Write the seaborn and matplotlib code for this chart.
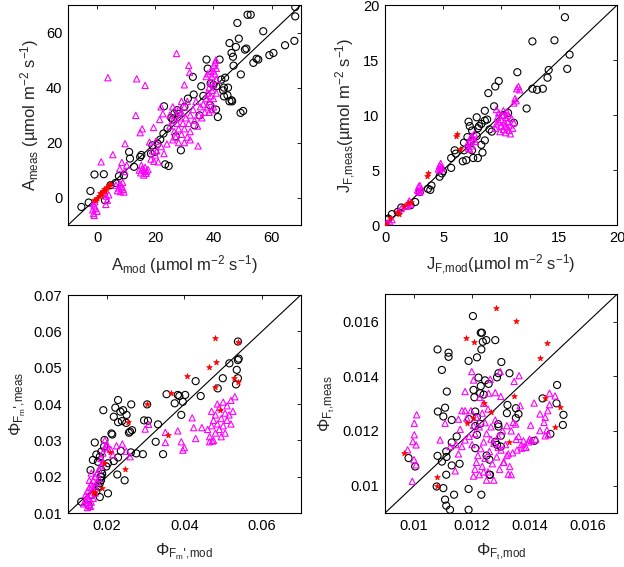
import numpy as np
import pandas as pd
import matplotlib
matplotlib.use("Agg")
import matplotlib.pyplot as plt
import seaborn as sns

# ---------------- Panel 1: A ----------------
a_circ_x = [-5.4, -2.3, -2.9, -0.9, 2.7, 2.3, 4.6, 6.3, 7.5, 9.2, 11.0, 11.3, 12.7, 14.8, 15.2, 18.5, 19.0, 19.8,
            20.8, 21.7, 22.8, 23.4, 24.6, 23.0, 24.2, 26.0, 26.5, 27.5, 28.8, 27.1, 30.0, 31.2, 33.2, 32.9, 33.5,
            35.2, 35.8, 37.6, 38.0, 38.8, 40.9, 41.5, 42.1, 42.7, 43.3, 43.6, 44.0, 44.8, 45.5, 46.4, 45.0, 45.5,
            46.2, 46.7, 46.9, 47.7, 48.2, 48.7, 49.3, 50.2, 49.4, 50.8, 51.3, 51.7, 52.8, 53.7, 54.8, 55.4, 57.1,
            59.2, 60.6, 64.6, 67.8, 68.1, 68.1, 43.6, 46.2, 40.0, 36.5, 39.0, 41.0, 25.5, 28.0]
a_circ_y = [-3.4, 2.4, -1.8, 8.4, -1.0, 8.5, 4.5, 5.3, 7.8, 8.1, 16.6, 14.2, 11.2, 14.8, 15.5, 16.0, 19.0, 16.6,
            19.6, 21.1, 23.3, 12.1, 11.5, 33.2, 25.1, 28.4, 30.5, 31.8, 17.2, 22.3, 33.0, 36.0, 37.5, 43.9, 26.3,
            29.9, 40.5, 50.2, 46.9, 33.6, 32.0, 29.3, 50.2, 42.9, 39.0, 40.0, 43.6, 37.2, 35.0, 35.0, 40.0, 56.2,
            52.6, 51.2, 48.0, 54.8, 63.5, 57.8, 30.8, 31.5, 44.8, 53.8, 54.2, 66.5, 66.5, 49.0, 50.5, 50.2, 60.5,
            51.8, 52.6, 55.4, 57.0, 65.9, 69.3, 36.8, 35.4, 41.0, 37.0, 41.5, 40.5, 29.0, 30.5]
a_tri_x = [3.7, 13.6, 16.5, 27.3, 31.5, 31.8, 30.0, 13.3, 14.8, 15.5, 19.4, 9.6, 5.4, 1.4, 34.7, 22.0, 22.6, 21.5, 18.0,
           -1.2, -1.5, -1.0, -0.8, -1.3, -0.5, 0.0, -1.0, 3.0, 3.5, 4.0, 3.2, 2.5,
           7.0, 7.5, 8.0, 8.5, 9.0, 7.8, 8.8, 6.5, 9.2, 7.8, 8.5, 9.5, 10.2,
           15.0, 15.5, 16.0, 16.5, 17.0, 15.2, 17.5, 16.2, 14.5, 16.8,
           18.5, 19.5, 20.0, 20.5, 21.0, 22.0, 23.0, 19.0, 24.0, 20.2,
           25, 26, 26.5, 27, 27.5, 28, 28, 28.5, 29, 29, 29.5, 30, 30, 30.5, 31, 31, 31.5, 32, 32, 33, 33.5, 34,
           34.5, 35, 35.5, 36, 36.5, 37, 37.5, 38, 27, 28, 26, 30, 32, 29, 26, 25,
           38, 38.5, 39, 39.5, 40, 40.2, 40.5, 41, 40.5, 41, 40, 39.5, 39, 38.5, 40, 41, 39, 38, 37.5, 40.8, 40,
           39.5, 38.5]
a_tri_y = [43.6, 43.2, 40.8, 52.4, 48.1, 45.5, 41.0, 29.9, 23.6, 25.0, 25.5, 19.6, 15.6, 13.0, 18.8, 33.0, 30.5, 28.4,
           20.2,
           -5.8, -4.5, -3.0, -1.5, -2.2, -4.0, -5.0, -6.5, -2.5, -1.0, 1.0, 0.5, 2.0,
           2.5, 3.5, 2.2, 4.0, 3.0, 5.0, 5.5, 4.5, 2.0, 10.5, 12.8, 9.5, 11.8,
           9.0, 10.5, 8.2, 11.0, 9.5, 11.8, 10.2, 9.8, 10.0, 8.8,
           14.0, 13.2, 15.5, 17.0, 13.0, 18.5, 16.0, 17.0, 19.5, 20.5,
           26, 28, 24, 30, 27, 32, 25, 29, 23, 31, 27, 33, 25, 29, 22, 35, 27, 30, 24, 32, 28, 35,
           26, 30, 33, 29, 34, 31, 36, 33, 22, 20, 21, 20, 21, 35, 33, 30,
           38, 40, 42, 44, 46, 48, 49, 47, 45, 43, 41, 39, 37, 35, 36, 38, 46, 45, 44, 50, 33,
           32, 31]
a_red_x = [-1.0, -0.5, 0.0, 0.5, 1.0, 1.2, 1.5, 2.0, 2.5, 2.8, 3.0, 3.5, 4.0, 4.5]
a_red_y = [-1.0, -0.8, 0.0, 0.5, 1.5, 0.8, 1.8, 2.3, 3.0, 2.5, 3.5, 4.0, 4.5, 5.0]

# ---------------- Panel 2: J_F ----------------
j_circ_x = [15.5, 12.7, 14.6, 15.9, 15.7, 14.1, 14.0, 11.4, 9.8, 9.5, 8.9, 12.7, 13.1, 13.6, 12.2, 9.4, 8.6, 7.9,
            8.6, 8.3, 7.2, 7.3, 7.5, 8.1, 9.0, 9.2, 7.1, 7.9, 8.6, 8.3, 7.4, 6.8, 6.8, 7.5, 8.4, 7.6, 8.0, 7.0,
            6.7, 6.0, 6.1, 5.7, 5.7, 5.0, 4.9, 4.7, 4.0, 3.7, 3.9, 3.0, 2.6, 2.2, 1.4, 1.1, 0.6, 0.3, 0.2, 10.6,
            11.1, 10.2, 8.8, 8.0]
j_circ_y = [18.9, 16.7, 16.8, 15.5, 14.2, 14.1, 13.4, 13.9, 13.1, 12.6, 12.0, 12.4, 12.3, 12.4, 10.6, 10.8, 10.4,
            9.8, 9.5, 9.2, 9.4, 9.0, 8.6, 9.0, 8.7, 8.5, 8.0, 8.1, 7.7, 7.3, 7.6, 7.5, 6.8, 6.8, 6.6, 6.1, 6.1,
            5.9, 5.8, 6.8, 6.5, 6.1, 5.2, 4.9, 4.7, 4.4, 3.6, 3.3, 3.2, 3.0, 2.1, 1.8, 1.6, 1.2, 1.0, 0.6, 0.5,
            10.2, 9.3, 10.0, 9.6, 8.8]
j_tri_x = [11.5, 11.6, 11.35, 11.2, 11.1, 11.3,
           9.5, 9.6, 9.7, 9.8, 9.9, 10.0, 10.0, 10.1, 10.2, 10.3, 10.4, 10.5, 10.5, 10.6, 10.7, 10.8, 10.9, 11.0,
           9.8, 10.2, 10.4, 10.6, 11.1, 9.6, 10.3, 10.8,
           7.2, 7.3, 7.4, 7.5, 7.6, 7.7, 7.3, 7.5, 7.8, 7.1,
           4.6, 4.7, 4.8, 4.9, 4.7, 4.8,
           2.8, 2.9, 3.0, 3.1, 3.0, 2.9,
           1.9, 2.0, 2.1, 2.2, 1.8,
           0.2, 0.4, 0.6, 1.2, 1.4, 0.1]
j_tri_y = [12.6, 12.3, 12.4, 11.5, 11.1, 11.3,
           8.8, 9.2, 9.8, 10.2, 8.5, 9.0, 9.6, 10.0, 8.7, 9.3, 9.8, 8.9, 10.3, 9.4, 8.6, 9.1, 9.7, 8.8,
           9.4, 10.4, 8.4, 10.0, 9.3, 10.5, 9.0, 8.3,
           7.0, 7.5, 8.0, 7.2, 7.8, 8.3, 6.9, 8.1, 7.6, 7.4,
           5.1, 5.4, 5.6, 5.2, 5.0, 5.3,
           3.2, 3.5, 3.6, 3.3, 3.0, 3.1,
           1.8, 2.0, 2.2, 1.9, 1.7,
           0.2, 0.3, 0.5, 1.3, 1.5, 0.1]
j_red_x = [6.1, 6.2, 3.6, 3.7, 6.5, 2.2, 2.0, 1.0, 1.2, 0.4, 0.1, 1.6]
j_red_y = [8.1, 8.3, 4.5, 4.7, 6.9, 2.1, 2.0, 1.2, 1.0, 0.6, 0.1, 1.7]

# ---------------- Panel 3: Phi_Fm' ----------------
f_circ_x = [0.0538, 0.0538, 0.0516, 0.0535, 0.0538, 0.0533, 0.0486, 0.0499, 0.0442, 0.0429, 0.0383, 0.0387, 0.0402,
            0.0396, 0.0392, 0.0375, 0.0354, 0.0345, 0.0326, 0.0304, 0.0332, 0.0296, 0.0306, 0.0293, 0.0276, 0.0263,
            0.0265, 0.0260, 0.0251, 0.0242, 0.0229, 0.0222, 0.0218, 0.0235, 0.0239, 0.0250, 0.0257, 0.0229, 0.0191,
            0.0212, 0.0214, 0.0194, 0.0193, 0.0169, 0.0186, 0.0182, 0.0173, 0.0164, 0.0158, 0.0177, 0.0186, 0.0203,
            0.0199, 0.0218, 0.0229, 0.0236, 0.0262, 0.0227, 0.0246, 0.0184, 0.0185, 0.0182, 0.0179, 0.0173, 0.0182,
            0.0203, 0.0162, 0.0134, 0.0153, 0.0186, 0.0188, 0.0540]
f_circ_y = [0.0572, 0.0521, 0.0512, 0.0494, 0.0471, 0.0454, 0.0443, 0.0471, 0.0422, 0.0463, 0.0425, 0.0422, 0.0425,
            0.0406, 0.0370, 0.0402, 0.0427, 0.0262, 0.0296, 0.0399, 0.0344, 0.0355, 0.0354, 0.0262, 0.0264, 0.0399,
            0.0328, 0.0324, 0.0370, 0.0383, 0.0411, 0.0390, 0.0365, 0.0379, 0.0353, 0.0348, 0.0321, 0.0350, 0.0383,
            0.0319, 0.0316, 0.0301, 0.0283, 0.0294, 0.0269, 0.0255, 0.0261, 0.0246, 0.0218, 0.0241, 0.0218, 0.0237,
            0.0228, 0.0243, 0.0253, 0.0271, 0.0267, 0.0206, 0.0190, 0.0200, 0.0190, 0.0182, 0.0173, 0.0159, 0.0144,
            0.0154, 0.0150, 0.0131, 0.0122, 0.0200, 0.0208, 0.0525]
f_tri_x = [0.0140, 0.0145, 0.0150, 0.0150, 0.0155, 0.0155, 0.0160, 0.0160, 0.0160, 0.0165, 0.0165, 0.0165, 0.0170,
           0.0170, 0.0170, 0.0175, 0.0175, 0.0180, 0.0180, 0.0185, 0.0185, 0.0190, 0.0190, 0.0195, 0.0200, 0.0195,
           0.0150, 0.0145, 0.0155, 0.0160, 0.0148, 0.0158, 0.0152, 0.0162,
           0.0210, 0.0225, 0.0240, 0.0250, 0.0260, 0.0200, 0.0215,
           0.0299, 0.0308, 0.0351, 0.0351, 0.0383, 0.0392, 0.0396, 0.0400, 0.0420, 0.0424, 0.0429, 0.0445, 0.0465,
           0.0472,
           0.0460, 0.0465, 0.0470, 0.0475, 0.0475, 0.0480, 0.0480, 0.0485, 0.0490, 0.0490, 0.0495, 0.0500, 0.0500,
           0.0505, 0.0510, 0.0510, 0.0515, 0.0520, 0.0520, 0.0525, 0.0530, 0.0470, 0.0485, 0.0495, 0.0505]
f_tri_y = [0.0125, 0.0135, 0.0145, 0.0160, 0.0170, 0.0120, 0.0180, 0.0150, 0.0130, 0.0190, 0.0165, 0.0140, 0.0200,
           0.0175, 0.0155, 0.0210, 0.0185, 0.0220, 0.0195, 0.0230, 0.0250, 0.0240, 0.0265, 0.0280, 0.0290, 0.0300,
           0.0115, 0.0150, 0.0190, 0.0210, 0.0128, 0.0118, 0.0138, 0.0172,
           0.0275, 0.0285, 0.0290, 0.0270, 0.0255, 0.0285, 0.0260,
           0.0331, 0.0344, 0.0322, 0.0294, 0.0326, 0.0296, 0.0273, 0.0280, 0.0362, 0.0335, 0.0305, 0.0335, 0.0296,
           0.0298,
           0.0330, 0.0310, 0.0340, 0.0300, 0.0355, 0.0320, 0.0370, 0.0345, 0.0330, 0.0390, 0.0360, 0.0340, 0.0405,
           0.0375, 0.0355, 0.0395, 0.0370, 0.0410, 0.0345, 0.0380, 0.0420, 0.0380, 0.0400, 0.0310, 0.0320]
f_red_x = [0.0480, 0.0482, 0.0463, 0.0407, 0.0478, 0.0529, 0.0538, 0.0538, 0.0491, 0.0366, 0.0359, 0.0304, 0.0255,
           0.0246, 0.0207, 0.0193, 0.0188, 0.0169, 0.0164]
f_red_y = [0.0583, 0.0515, 0.0503, 0.0477, 0.0448, 0.0471, 0.0460, 0.0572, 0.0383, 0.0431, 0.0315, 0.0399, 0.0350,
           0.0222, 0.0269, 0.0237, 0.0168, 0.0159, 0.0155]

# ---------------- Panel 4: Phi_Ft ----------------
t_circ_x = [0.01203, 0.01230, 0.01234, 0.01237, 0.01232, 0.01249, 0.01280, 0.01217, 0.01188, 0.01081, 0.01119,
            0.01119, 0.01096, 0.01301, 0.01286, 0.01257, 0.01222, 0.01230, 0.01228, 0.01240, 0.01245, 0.01205,
            0.01208, 0.01113, 0.01107, 0.01101, 0.01082, 0.01130, 0.01147, 0.01130, 0.01111, 0.01081, 0.01096,
            0.01112, 0.01130, 0.01111, 0.01157, 0.01190, 0.01211, 0.01217, 0.01228, 0.01211, 0.01217, 0.01211,
            0.01250, 0.01260, 0.01260, 0.01232, 0.00981, 0.01004, 0.01101, 0.01107, 0.01111, 0.01124, 0.01138,
            0.01188, 0.01188, 0.01291, 0.01299, 0.01299, 0.01290, 0.01320, 0.01351, 0.01360, 0.01351, 0.01322,
            0.01291, 0.01329, 0.01443, 0.01470, 0.01491, 0.01493, 0.01513, 0.01515, 0.01415, 0.01262, 0.01280,
            0.01286, 0.01078]
t_circ_y = [0.01620, 0.01559, 0.01559, 0.01526, 0.01498, 0.01532, 0.01532, 0.01469, 0.01456, 0.01498, 0.01486,
            0.01471, 0.01423, 0.01452, 0.01396, 0.01372, 0.01395, 0.01364, 0.01338, 0.01333, 0.01385, 0.01350,
            0.01323, 0.01344, 0.01285, 0.01253, 0.01271, 0.01240, 0.01180, 0.01158, 0.01125, 0.01109, 0.01088,
            0.01105, 0.01074, 0.01040, 0.01080, 0.01243, 0.01271, 0.01251, 0.01226, 0.01218, 0.01186, 0.01137,
            0.01110, 0.01095, 0.01040, 0.00967, 0.01101, 0.01070, 0.00991, 0.00949, 0.00927, 0.00912, 0.00967,
            0.00988, 0.00912, 0.01216, 0.01182, 0.01143, 0.01225, 0.01265, 0.01283, 0.01262, 0.01247, 0.01295,
            0.01411, 0.01411, 0.01319, 0.01189, 0.01301, 0.01368, 0.01222, 0.01259, 0.01164, 0.01040, 0.01160,
            0.01149, 0.00997]
t_tri_x = [0.01009, 0.01001, 0.01001, 0.00996, 0.01007, 0.01000, 0.01007, 0.00994, 0.00978,
           0.01107, 0.01090, 0.01124, 0.01142, 0.01153, 0.01165, 0.01145,
           0.01165, 0.01176, 0.01196, 0.01182, 0.01153, 0.01159, 0.01176, 0.01190,
           0.01199, 0.01176, 0.01205, 0.01226, 0.01240, 0.01263, 0.01257, 0.01280, 0.01297, 0.01299,
           0.01205, 0.01210, 0.01215, 0.01220, 0.01225, 0.01230, 0.01235, 0.01240, 0.01245, 0.01250, 0.01255,
           0.01260, 0.01265, 0.01270, 0.01275, 0.01280, 0.01285, 0.01290, 0.01295, 0.01300, 0.01305, 0.01310,
           0.01315, 0.01320, 0.01330, 0.01335, 0.01210, 0.01215, 0.01225, 0.01235, 0.01245, 0.01255, 0.01265,
           0.01200, 0.01205, 0.01250, 0.01275, 0.01240, 0.01290,
           0.01340, 0.01355, 0.01370, 0.01380, 0.01395, 0.01405, 0.01420, 0.01360, 0.01335, 0.01350,
           0.01414, 0.01467, 0.01486, 0.01467, 0.01461, 0.01434, 0.01452, 0.01448, 0.01402, 0.01434, 0.01458,
           0.01463, 0.01452, 0.01352, 0.01377, 0.01398, 0.01386, 0.01371, 0.01362, 0.01345, 0.01366, 0.01342,
           0.01320, 0.01325, 0.01308, 0.01325]
t_tri_y = [0.01259, 0.01228, 0.01186, 0.01161, 0.01149, 0.01095, 0.01076, 0.01016, 0.01131,
           0.01228, 0.01167, 0.01143, 0.01054, 0.01116, 0.01143, 0.01150,
           0.01274, 0.01274, 0.01274, 0.01247, 0.01243, 0.01206, 0.01167, 0.01180,
           0.01417, 0.01344, 0.01386, 0.01323, 0.01301, 0.01389, 0.01338, 0.01340, 0.01417, 0.01326,
           0.01035, 0.01060, 0.01085, 0.01110, 0.01040, 0.01135, 0.01070, 0.01160, 0.01100, 0.01190, 0.01050,
           0.01125, 0.01215, 0.01080, 0.01155, 0.01240, 0.01105, 0.01180, 0.01060, 0.01130, 0.01200, 0.01085,
           0.01150, 0.01110, 0.01070, 0.01040, 0.01190, 0.01250, 0.01215, 0.01265, 0.01230, 0.01280, 0.01170,
           0.01150, 0.01220, 0.01020, 0.01020, 0.01050, 0.01140,
           0.01120, 0.01130, 0.01150, 0.01140, 0.01160, 0.01165, 0.01170, 0.01180, 0.01200, 0.01225,
           0.01302, 0.01338, 0.01328, 0.01296, 0.01274, 0.01262, 0.01250, 0.01231, 0.01221, 0.01201, 0.01203,
           0.01186, 0.01182, 0.01169, 0.01164, 0.01170, 0.01140, 0.01137, 0.01402, 0.01381, 0.01292, 0.01231,
           0.01219, 0.01116, 0.01085, 0.01042]
t_red_x = [0.01282, 0.01352, 0.01180, 0.01205, 0.01458, 0.01435, 0.01345, 0.01453, 0.01502, 0.01487, 0.01327,
           0.01240, 0.01266, 0.01182, 0.01202, 0.00966, 0.01078, 0.01078]
t_red_y = [0.01648, 0.01602, 0.01541, 0.01526, 0.01522, 0.01465, 0.01328, 0.01319, 0.01289, 0.01214, 0.01159,
           0.01301, 0.01271, 0.01228, 0.01249, 0.01121, 0.01031, 0.00997]

# ---------------- Axes settings ----------------
lims = [(-10, 70), (0, 20), (0.01, 0.07), (0.009, 0.017)]
ticks = [[0, 20, 40, 60], [0, 5, 10, 15, 20], [0.01, 0.02, 0.03, 0.04, 0.05, 0.06, 0.07],
         [0.01, 0.012, 0.014, 0.016]]
xtick_sets = [[0, 20, 40, 60], [0, 5, 10, 15, 20], [0.02, 0.04, 0.06], [0.01, 0.012, 0.014, 0.016]]
xlabels = [r"$A_{mod}$ (µmol m$^{-2}$ s$^{-1}$)",
           r"$J_{F{,}mod}$(µmol m$^{-2}$ s$^{-1}$)",
           r"$\Phi_{F_m\text{'}{,}mod}$",
           r"$\Phi_{F_t{,}mod}$"]
ylabels = [r"$A_{meas}$ (µmol m$^{-2}$ s$^{-1}$)",
           r"$J_{F{,}meas}$(µmol m$^{-2}$ s$^{-1}$)",
           r"$\Phi_{F_m\text{'}{,}meas}$",
           r"$\Phi_{F_t{,}meas}$"]

sns.set_style("white")
plt.rcParams['font.family'] = ['Liberation Sans', 'DejaVu Sans']
plt.rcParams['mathtext.default'] = 'regular'

fig = plt.figure(figsize=(6.24, 5.67), dpi=100)
positions = [[0.109, 0.603, 0.373, 0.388], [0.617, 0.603, 0.372, 0.388],
             [0.109, 0.0952, 0.373, 0.3845], [0.617, 0.0952, 0.372, 0.386]]

data = [
    (a_circ_x, a_circ_y, a_tri_x, a_tri_y, a_red_x, a_red_y),
    (j_circ_x, j_circ_y, j_tri_x, j_tri_y, j_red_x, j_red_y),
    (f_circ_x, f_circ_y, f_tri_x, f_tri_y, f_red_x, f_red_y),
    (t_circ_x, t_circ_y, t_tri_x, t_tri_y, t_red_x, t_red_y),
]

for i in range(4):
    ax = fig.add_axes(positions[i])
    cx, cy, tx, ty, rx, ry = data[i]
    lo, hi = lims[i]
    ax.plot([lo, hi], [lo, hi], color='black', lw=0.8, zorder=1)
    sns.scatterplot(x=cx, y=cy, ax=ax, marker='o', s=26, facecolor='none',
                    edgecolor='black', linewidth=0.8, zorder=2)
    sns.scatterplot(x=tx, y=ty, ax=ax, marker='^', s=20, facecolor='none',
                    edgecolor='#ff00ff', linewidth=0.8, zorder=3)
    sns.scatterplot(x=rx, y=ry, ax=ax, marker='*', s=18, color='red',
                    edgecolor='red', linewidth=0.5, zorder=4)
    ax.set_xlim(lo, hi)
    ax.set_ylim(lo, hi)
    ax.set_xticks(xtick_sets[i])
    ax.set_yticks(ticks[i])
    ax.set_xticklabels([f"{v:g}" for v in xtick_sets[i]])
    ax.set_yticklabels([f"{v:g}" for v in ticks[i]])
    ax.tick_params(direction='in', length=3, width=0.6, top=True, right=True,
                   labelsize=10.5, pad=4, colors='black')
    for sp in ax.spines.values():
        sp.set_visible(True)
        sp.set_color('black')
        sp.set_linewidth(0.8)
    ax.set_xlabel(xlabels[i], fontsize=12, labelpad=6)
    ax.set_ylabel(ylabels[i], fontsize=12, labelpad=4)

fig.savefig("out.png", dpi=100)
